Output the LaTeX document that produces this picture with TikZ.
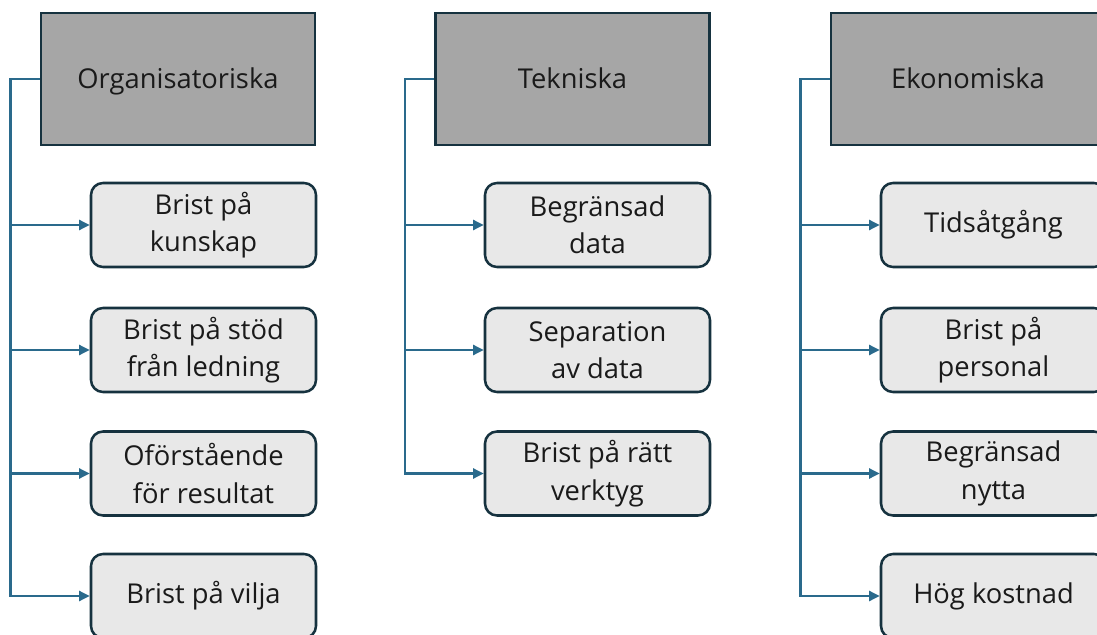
\documentclass[tikz,border=0pt]{standalone}
\usepackage{fontspec}
\setmainfont{Open Sans}
\usepackage{tikz}
\usetikzlibrary{positioning,arrows.meta}

\definecolor{headfill}{HTML}{A6A6A6}
\definecolor{itemfill}{HTML}{E8E8E8}
\definecolor{boxline}{HTML}{16323F}
\definecolor{connblue}{HTML}{2A6A8C}
\definecolor{txt}{HTML}{1A1A1A}

\begin{document}
\begin{tikzpicture}[
  x=0.75pt, y=-0.75pt,
  font=\fontsize{20.5}{28}\selectfont\color{txt},
  head/.style={draw=boxline, fill=headfill, line width=1.9pt,
    minimum width=205.5pt, minimum height=99pt, inner sep=0pt,
    text height=14.6pt, text depth=0pt},
  item/.style={draw=boxline, fill=itemfill, line width=1.9pt, rounded corners=9pt,
    minimum width=168.75pt, minimum height=63pt, inner sep=0pt, align=center},
  conn/.style={draw=connblue, line width=1.8pt},
  arr/.style={conn, -{Triangle[length=8pt, width=7.5pt]}},
]
\useasboundingbox (0,0) rectangle (1097,635);

% column headers
\foreach \cx/\nm/\txt in {178/org/Organisatoriska, 572.5/tek/Tekniska, 968/eko/Ekonomiska}
  \node[head] (\nm Head) at (\cx, 79) {\txt};

% trunk corners left of each header
\coordinate[left=22pt of orgHead.west] (orgTrunk);
\coordinate[left=22pt of tekHead.west] (tekTrunk);
\coordinate[left=22pt of ekoHead.west] (ekoTrunk);

% organisatoriska
\node[item] (orgA) at (203.5, 225) {Brist på\\kunskap};
\node[item] (orgB) at (203.5, 350) {Brist på stöd\\från ledning};
\node[item] (orgC) at (203.5, 473.5) {Oförstående\\för resultat};
\node[item] (orgD) at (203.5, 596) {Brist på vilja};

% tekniska
\node[item] (tekA) at (597.5, 225) {Begränsad\\data};
\node[item] (tekB) at (597.5, 350) {Separation\\av data};
\node[item] (tekC) at (597.5, 473.5) {Brist på rätt\\verktyg};

% ekonomiska
\node[item] (ekoA) at (993.5, 225) {Tidsåtgång};
\node[item] (ekoB) at (993.5, 350) {Brist på\\personal};
\node[item] (ekoC) at (993.5, 473.5) {Begränsad\\nytta};
\node[item] (ekoD) at (993.5, 596) {Hög kostnad};

% connectors
\draw[arr] (orgHead.west) -- (orgTrunk) |- (orgD.west);
\foreach \c in {orgA, orgB, orgC}
  \draw[arr] (orgTrunk |- \c.west) -- (\c.west);

\draw[arr] (tekHead.west) -- (tekTrunk) |- (tekC.west);
\foreach \c in {tekA, tekB}
  \draw[arr] (tekTrunk |- \c.west) -- (\c.west);

\draw[arr] (ekoHead.west) -- (ekoTrunk) |- (ekoD.west);
\foreach \c in {ekoA, ekoB, ekoC}
  \draw[arr] (ekoTrunk |- \c.west) -- (\c.west);
\end{tikzpicture}
\end{document}
